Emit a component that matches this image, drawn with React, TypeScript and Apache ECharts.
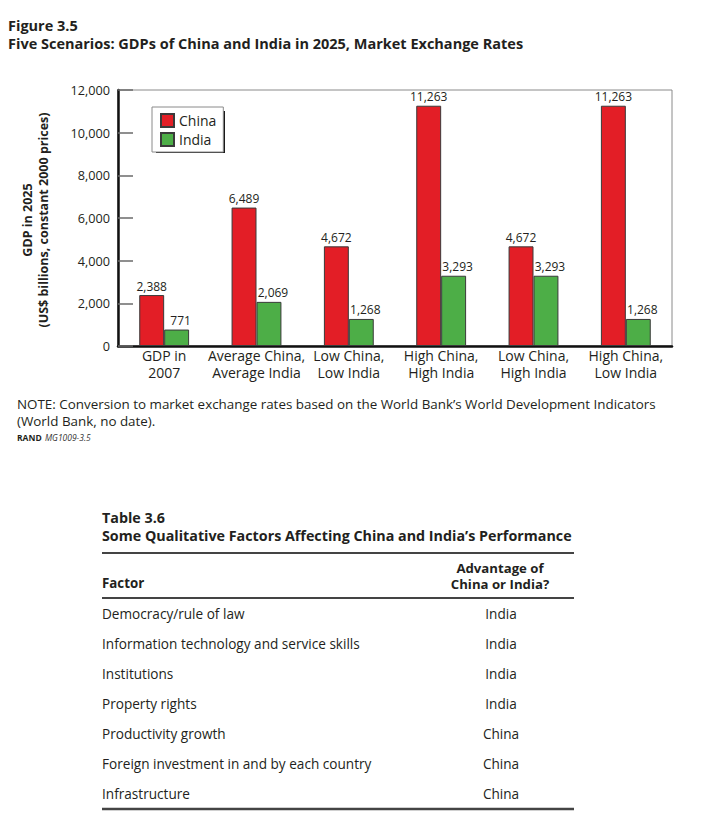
import React, { useEffect, useRef } from "react";
import * as echarts from "echarts";

const categories = [
  "GDP in\n2007",
  "Average China,\nAverage India",
  "Low China,\nLow India",
  "High China,\nHigh India",
  "Low China,\nHigh India",
  "High China,\nLow India",
];
const chinaValues = [2388, 6489, 4672, 11263, 4672, 11263];
const indiaValues = [771, 2069, 1268, 3293, 3293, 1268];
const yMin = 0;
const yMax = 12000;
const yInterval = 2000;

const figureLabel = "Figure 3.5";
const figureTitle = "Five Scenarios: GDPs of China and India in 2025, Market Exchange Rates";
const yTitle1 = "GDP in 2025";
const yTitle2 = "(US$ billions, constant 2000 prices)";
const noteText =
  "NOTE: Conversion to market exchange rates based on the World Bank\u2019s World Development Indicators\n(World Bank, no date).";

const tableLabel = "Table 3.6";
const tableTitle = "Some Qualitative Factors Affecting China and India\u2019s Performance";
const tableHeaderFactor = "Factor";
const tableHeaderAdv = "Advantage of\nChina or India?";
const tableFactors = [
  "Democracy/rule of law",
  "Information technology and service skills",
  "Institutions",
  "Property rights",
  "Productivity growth",
  "Foreign investment in and by each country",
  "Infrastructure",
];
const tableAdvantage = ["India", "India", "India", "India", "China", "China", "China"];

const FONT = '"Open Sans", "Noto Sans", sans-serif';
const TXT = "#231f20";
const RED = "#e31e26";
const GREEN = "#4dae47";

export default function App() {
  const ref = useRef<HTMLDivElement>(null);
  useEffect(() => {
    if (!ref.current) return;
    const chart = echarts.init(ref.current, undefined, { renderer: "svg" });
    const fmt = (v: number) => v.toLocaleString("en-US");

    const graphics: any[] = [
      { type: "text", x: 8, y: 25, style: { text: figureLabel, font: `bold 14.5px ${FONT}`, fill: TXT, verticalAlign: "middle" } },
      { type: "text", x: 8, y: 43, style: { text: figureTitle, font: `bold 14.5px ${FONT}`, fill: TXT, verticalAlign: "middle" } },
      { type: "text", x: 27, y: 220, rotation: Math.PI / 2, style: { text: yTitle1, font: `bold 12.5px ${FONT}`, fill: TXT, align: "center", verticalAlign: "middle" } },
      { type: "text", x: 43, y: 220, rotation: Math.PI / 2, style: { text: yTitle2, font: `bold 12.5px ${FONT}`, fill: TXT, align: "center", verticalAlign: "middle" } },
      { type: "rect", z: 3, shape: { x: 156, y: 111, width: 69, height: 42 }, style: { fill: "#1a1a1a" } },
      { type: "text", x: 17, y: 396, style: { text: noteText, font: `13.4px ${FONT}`, lineHeight: 16.4, fill: TXT, verticalAlign: "top" } },
      {
        type: "text", x: 17, y: 437,
        style: {
          text: "{b|RAND} {i|MG1009-3.5}",
          verticalAlign: "middle",
          rich: {
            b: { font: `bold 8.5px ${FONT}`, fill: TXT },
            i: { font: `italic 8.5px ${FONT}`, fill: "#333" },
          },
        },
      },
      { type: "text", x: 102, y: 517, style: { text: tableLabel, font: `bold 14.3px ${FONT}`, fill: TXT, verticalAlign: "middle" } },
      { type: "text", x: 102, y: 535, style: { text: tableTitle, font: `bold 14.3px ${FONT}`, fill: TXT, verticalAlign: "middle" } },
      { type: "line", shape: { x1: 102, y1: 553, x2: 574, y2: 553 }, style: { stroke: "#444", lineWidth: 2 } },
      { type: "text", x: 102, y: 583, style: { text: tableHeaderFactor, font: `bold 13.3px ${FONT}`, fill: TXT, verticalAlign: "middle" } },
      { type: "text", x: 500, y: 576, style: { text: tableHeaderAdv, font: `bold 13.2px ${FONT}`, lineHeight: 16.5, fill: TXT, align: "center", verticalAlign: "middle" } },
      { type: "line", shape: { x1: 102, y1: 598, x2: 574, y2: 598 }, style: { stroke: "#444", lineWidth: 2 } },
      { type: "line", shape: { x1: 102, y1: 809, x2: 574, y2: 809 }, style: { stroke: "#444", lineWidth: 2.5 } },
    ];
    tableFactors.forEach((f, i) => {
      const y = 613 + i * 30.1;
      graphics.push({ type: "text", x: 102, y, style: { text: f, font: `13.6px ${FONT}`, fill: TXT, verticalAlign: "middle" } });
      graphics.push({ type: "text", x: 501, y, style: { text: tableAdvantage[i], font: `13.6px ${FONT}`, fill: TXT, align: "center", verticalAlign: "middle" } });
    });

    const barLabel = {
      show: true,
      position: "top",
      distance: 3,
      fontFamily: FONT,
      fontSize: 12,
      color: TXT,
      formatter: (p: any) => fmt(p.value),
    };

    chart.setOption({
      animation: false,
      backgroundColor: "#fff",
      textStyle: { fontFamily: FONT },
      grid: {
        left: 118, top: 90, right: 31, bottom: 488,
        show: true, borderColor: "#8a8a8a", borderWidth: 1, backgroundColor: "transparent",
      },
      legend: {
        left: 152, top: 107, orient: "vertical", z: 5,
        itemWidth: 13, itemHeight: 13, itemGap: 4,
        padding: [6, 7, 5, 8],
        backgroundColor: "#fff", borderColor: "#8a8a8a", borderWidth: 1,
        icon: "rect",
        textStyle: { fontFamily: FONT, fontSize: 14, color: TXT },
        data: ["China", "India"],
      },
      xAxis: {
        type: "category",
        data: categories,
        axisLine: { show: true, lineStyle: { color: "#111", width: 2.5 } },
        axisTick: { show: false },
        axisLabel: { fontFamily: FONT, fontSize: 14, color: TXT, lineHeight: 17.4, margin: 0.5, interval: 0 },
      },
      yAxis: {
        type: "value",
        min: yMin, max: yMax, interval: yInterval,
        axisLine: { show: true, lineStyle: { color: "#111", width: 2.5 } },
        axisTick: { show: true, inside: true, length: 15, lineStyle: { color: "#6a6a6a", width: 1.5 } },
        axisLabel: { fontFamily: FONT, fontSize: 12.7, color: TXT, margin: 8, formatter: (v: number) => fmt(v) },
        splitLine: { show: false },
      },
      series: [
        {
          name: "China", type: "bar", data: chinaValues, barWidth: "27%", barGap: "0%", z: 2,
          itemStyle: { color: RED, borderColor: "#3a3a3a", borderWidth: 1 },
          label: barLabel,
        },
        {
          name: "India", type: "bar", data: indiaValues, barWidth: "27%", barGap: "0%", z: 3,
          itemStyle: { color: GREEN, borderColor: "#3a3a3a", borderWidth: 1 },
          label: { ...barLabel, offset: [4, 0] },
        },
      ],
      graphic: graphics,
    });
    return () => chart.dispose();
  }, []);
  return <div ref={ref} style={{ position: "absolute", left: 0, top: 0, width: 703, height: 834 }} />;
}
